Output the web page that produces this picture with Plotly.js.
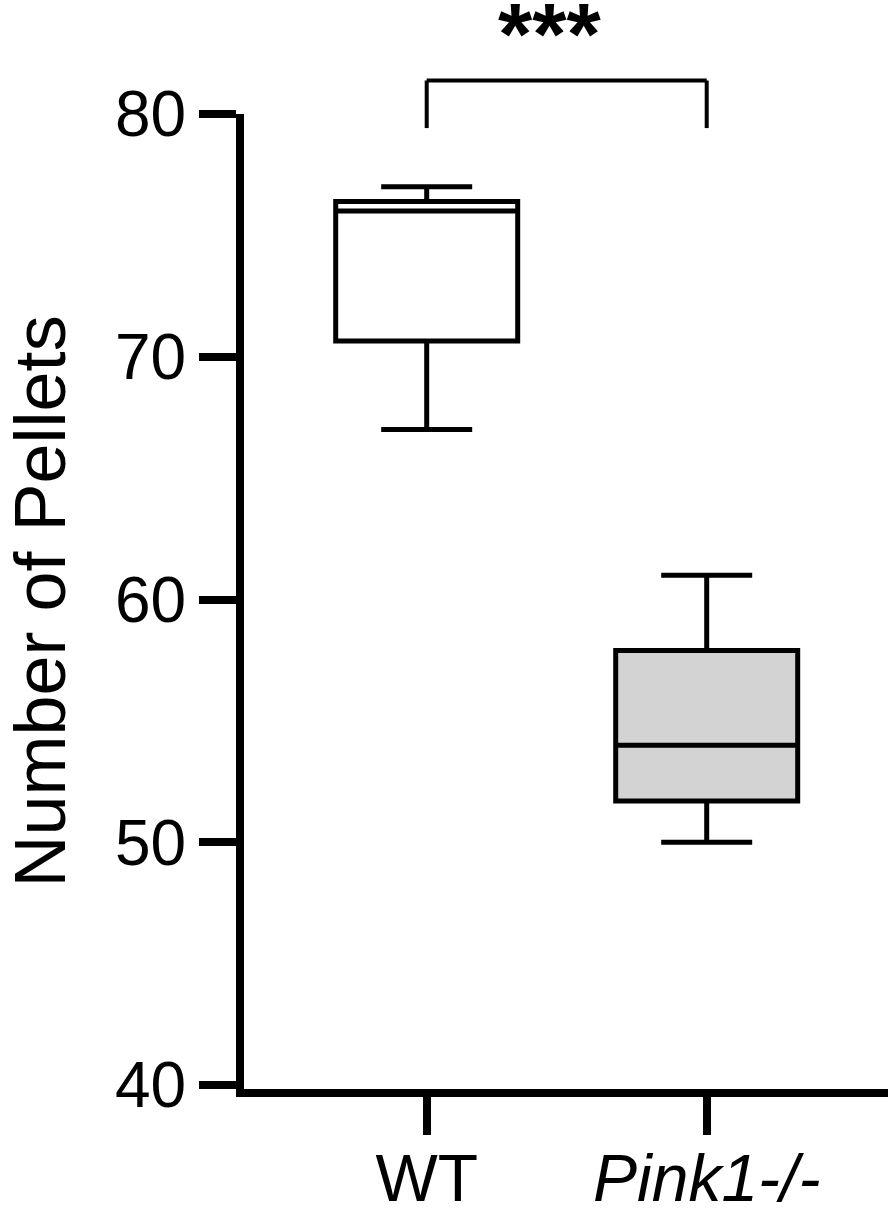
<!DOCTYPE html>
<html><head><meta charset="utf-8">
<script src="https://cdn.plot.ly/plotly-3.0.1.min.js"></script>
<style>html,body{margin:0;padding:0;background:#fff}</style>
</head><body><div id="chart" style="width:888px;height:1211px"></div>
<script>
// Data
const categories = ['WT', 'Pink1-/-'];
const tickLabels = ['WT', '<i>Pink1-/-</i>'];
const lowerWhisker = [67, 50];
const q1Values = [70.65, 51.7];
const medianValues = [76, 54];
const q3Values = [76.4, 57.9];
const upperWhisker = [77, 61];
const fillColors = ['#ffffff', '#d3d3d3'];
const yTickValues = [40, 50, 60, 70, 80];
const sigLabel = '***';
const sigBracketTop = 81.38;
const sigBracketBottom = 79.42;
const sigTextY = 83.3;

const yMin = 39.837, yMax = 80;
const toPaper = v => (v - yMin) / (yMax - yMin);

const traces = categories.map((c, i) => ({
  type: 'box',
  name: c,
  x: [c],
  q1: [q1Values[i]],
  median: [medianValues[i]],
  q3: [q3Values[i]],
  lowerfence: [lowerWhisker[i]],
  upperfence: [upperWhisker[i]],
  fillcolor: fillColors[i],
  line: {color: '#000', width: 5},
  width: 0.65,
  whiskerwidth: 0.5,
  boxpoints: false,
  showlegend: false
}));

const font = 'Arial, "Liberation Sans", sans-serif';
const layout = {
  width: 888, height: 1211,
  margin: {l: 244, r: 0, t: 114, b: 122},
  paper_bgcolor: '#fff', plot_bgcolor: '#fff',
  showlegend: false,
  xaxis: {
    type: 'category',
    range: [-0.6525, 1.6475],
    showline: true, linewidth: 8, linecolor: '#000',
    ticks: 'outside', ticklen: 38, tickwidth: 8, tickcolor: '#000',
    tickvals: categories, ticktext: tickLabels,
    ticklabelstandoff: -13,
    tickfont: {family: font, size: 66, color: '#000'},
    showgrid: false, zeroline: false, fixedrange: true
  },
  yaxis: {
    range: [yMin, yMax],
    showline: true, linewidth: 8, linecolor: '#000',
    ticks: 'outside', ticklen: 37, tickwidth: 8, tickcolor: '#000',
    tickvals: yTickValues,
    tickfont: {family: font, size: 64, color: '#000'},
    title: {text: 'Number of Pellets', font: {family: font, size: 72, color: '#000'}, standoff: 30},
    showgrid: false, zeroline: false, fixedrange: true
  },
  shapes: [
    {type: 'line', xref: 'x', yref: 'paper', x0: 0, x1: 1, y0: toPaper(sigBracketTop), y1: toPaper(sigBracketTop), line: {color: '#000', width: 4}},
    {type: 'line', xref: 'x', yref: 'paper', x0: 0, x1: 0, y0: toPaper(sigBracketTop), y1: toPaper(sigBracketBottom), line: {color: '#000', width: 4}},
    {type: 'line', xref: 'x', yref: 'paper', x0: 1, x1: 1, y0: toPaper(sigBracketTop), y1: toPaper(sigBracketBottom), line: {color: '#000', width: 4}}
  ],
  annotations: [
    {text: '<b>' + sigLabel + '</b>', xref: 'x', yref: 'paper', x: 0.44, y: toPaper(sigTextY), showarrow: false, yanchor: 'middle', xanchor: 'center', font: {family: font, size: 88, color: '#000'}}
  ]
};

Plotly.newPlot('chart', traces, layout, {displayModeBar: false, staticPlot: true});
</script>
</body></html>
